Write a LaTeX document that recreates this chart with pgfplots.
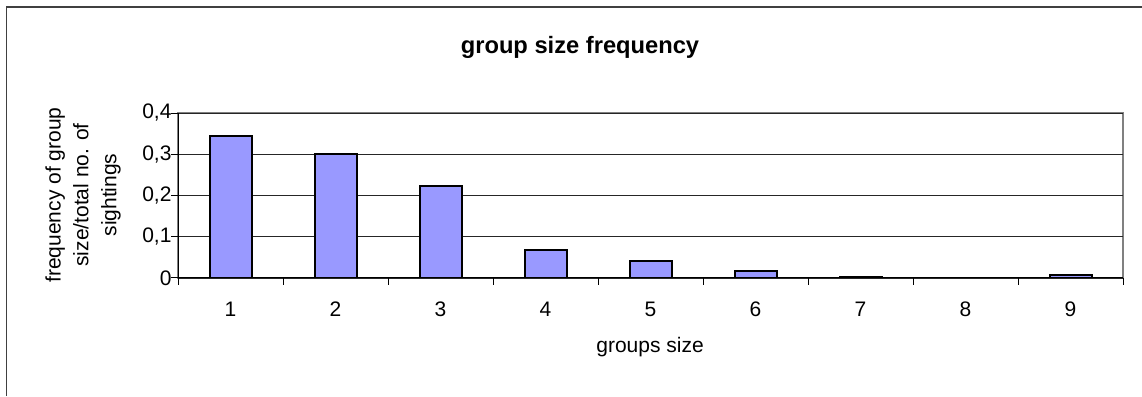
\documentclass[border=0pt]{standalone}
\usepackage{fontspec}
\setmainfont{Liberation Sans}
\usepackage{pgfplots}
\pgfplotsset{compat=1.18}
\definecolor{barblue}{HTML}{9999FF}
\begin{document}
\begin{tikzpicture}[x=1pt,y=1pt]
\useasboundingbox (0,0) rectangle (1142,396);
\draw[line width=1.8pt, color=black!75] (6.5,0) -- (6.5,389) -- (1142,389);
\begin{axis}[
  at={(178pt,118pt)}, anchor=south west,
  scale only axis, width=945pt, height=165pt,
  xmin=0.5, xmax=9.5, ymin=0, ymax=0.4,
  axis lines=left, axis line style={-, black, line width=1pt},
  axis background/.style={draw=gray, line width=1.5pt},
  ybar, bar width=42pt,
  xtick={0.5,1.5,2.5,3.5,4.5,5.5,6.5,7.5,8.5,9.5},
  xticklabels={1,2,3,4,5,6,7,8,9,{}},
  ytick={0,0.1,0.2,0.3,0.4},
  yticklabels={0,{0,1},{0,2},{0,3},{0,4}},
  tick align=outside, major tick length=7pt,
  tick style={black, line width=1pt},
  ymajorgrids, grid style={black!85, line width=0.9pt},
  /pgf/number format/assume math mode=true,
  tick label style={font=\fontsize{21}{25}\selectfont},
  xticklabel style={anchor=base, xshift=52.5pt, yshift=-31pt},
  yticklabel style={xshift=4pt},
  title={group size frequency},
  title style={font=\bfseries\fontsize{23.7}{28}\selectfont, anchor=base, at={(axis description cs:0.4254,1.327)}},
  xlabel={groups size},
  xlabel style={font=\fontsize{21}{25}\selectfont, anchor=base, at={(axis description cs:0.4995,-0.4485)}},
  ylabel={frequency of group\\size/total no. of\\sightings},
  ylabel style={font=\fontsize{21}{27.8}\selectfont, align=center, anchor=center, at={(axis description cs:-0.1005,0.503)}},
]
\addplot[fill=barblue, draw=black, line width=2pt] coordinates {
  (1,0.344) (2,0.300) (3,0.222) (4,0.068) (5,0.041) (6,0.016) (7,0.003) (9,0.007)
};
\end{axis}
\end{tikzpicture}
\end{document}
